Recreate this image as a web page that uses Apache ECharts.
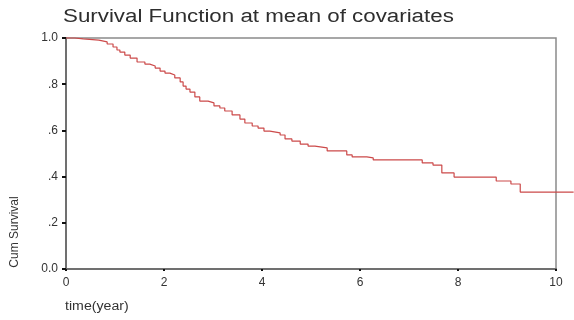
<!DOCTYPE html>
<html>
<head>
<meta charset="utf-8">
<script src="https://cdn.jsdelivr.net/npm/echarts@6/dist/echarts.min.js"></script>
<style>
	html, body { margin: 0; padding: 0; background: #fff; }
	#chart { width: 574px; height: 320px; }
</style>
</head>
<body>
<div id="chart"></div>
<script>
	// step times (year) and cumulative survival
	var times = [0, 0.18, 0.35, 0.67, 0.84, 0.96, 1.04, 1.10, 1.20, 1.31, 1.45, 1.61, 1.71, 1.82, 1.92,
		2.02, 2.12, 2.22, 2.33, 2.39, 2.45, 2.53, 2.63, 2.73, 2.90, 3.02, 3.14, 3.24, 3.39, 3.55,
		3.65, 3.80, 3.92, 4.04, 4.16, 4.37, 4.47, 4.61, 4.78, 4.94, 5.08, 5.33, 5.73, 5.84, 6.14,
		6.27, 7.27, 7.49, 7.67, 7.92, 8.78, 9.08, 9.27, 10.36];
	var survival = [1.0, 0.996, 0.991, 0.983, 0.974, 0.961, 0.948, 0.939, 0.926, 0.913, 0.896, 0.887, 0.879, 0.870, 0.857,
		0.848, 0.840, 0.827, 0.810, 0.792, 0.779, 0.766, 0.745, 0.727, 0.719, 0.706, 0.697, 0.684, 0.667, 0.649,
		0.632, 0.619, 0.610, 0.597, 0.589, 0.580, 0.563, 0.554, 0.541, 0.532, 0.524, 0.511, 0.494, 0.485, 0.481,
		0.472, 0.459, 0.450, 0.416, 0.398, 0.381, 0.368, 0.333, 0.333];

	var yTickLabels = { 0: '0.0', 0.2: '.2', 0.4: '.4', 0.6: '.6', 0.8: '.8', 1: '1.0' };

	var data = [];
	for (var i = 0; i < times.length; i++) {
		data.push([times[i], survival[i]]);
	}

	// the curve runs on past the frame to the picture edge, so it gets its own wider grid
	var plotLeft = 66, frameRight = 556, chartWidth = 574;
	var xMax = 10;
	var xMaxWide = xMax * (chartWidth - plotLeft) / (frameRight - plotLeft);

	var font = 'Liberation Sans, Arial, sans-serif';

	var myEchart = echarts.init(document.getElementById('chart'));

	var option = {
		animation: false,
		grid: [
			{
				left: plotLeft,
				right: chartWidth - frameRight,
				top: 38,
				bottom: 51,
				show: true,
				borderColor: '#8a8a8a',
				borderWidth: 1.5
			},
			{
				left: plotLeft,
				right: 0,
				top: 38,
				bottom: 51
			}
		],
		xAxis: [
			{
				type: 'value',
				gridIndex: 0,
				min: 0,
				max: xMax,
				interval: 2,
				splitLine: { show: false },
				axisLine: { show: true, onZero: false, lineStyle: { color: '#707070', width: 2 } },
				axisTick: { show: true, length: 2, lineStyle: { color: '#111', width: 2 } },
				axisLabel: { margin: 8, fontFamily: font, fontSize: 12, color: '#333' }
			},
			{
				type: 'value',
				gridIndex: 1,
				min: 0,
				max: xMaxWide,
				show: false
			}
		],
		yAxis: [
			{
				type: 'value',
				gridIndex: 0,
				min: 0,
				max: 1,
				interval: 0.2,
				splitLine: { show: false },
				axisLine: { show: true, onZero: false, lineStyle: { color: '#707070', width: 2 } },
				axisTick: { show: true, length: 4, lineStyle: { color: '#111', width: 2 } },
				axisLabel: {
					margin: 8,
					fontFamily: font,
					fontSize: 12,
					color: '#333',
					formatter: function (v) {
						var k = Math.round(v * 10) / 10;
						return yTickLabels[k] !== undefined ? yTickLabels[k] : '';
					}
				}
			},
			{
				type: 'value',
				gridIndex: 1,
				min: 0,
				max: 1,
				show: false
			}
		],
		graphic: [
			{
				type: 'text',
				x: 63,
				y: 8,
				scaleX: 1.24,
				style: {
					text: 'Survival Function at mean of covariates',
					font: '18px ' + font,
					fill: '#2e2e2e'
				}
			},
			{
				type: 'text',
				x: 65,
				y: 301,
				scaleX: 1.18,
				style: {
					text: 'time(year)',
					font: '12px ' + font,
					fill: '#333'
				}
			},
			{
				type: 'text',
				x: 15,
				y: 232,
				rotation: Math.PI / 2,
				style: {
					text: 'Cum Survival',
					font: '12px ' + font,
					fill: '#333',
					align: 'center',
					verticalAlign: 'middle'
				}
			}
		],
		series: [{
			type: 'line',
			xAxisIndex: 1,
			yAxisIndex: 1,
			step: 'end',
			showSymbol: false,
			clip: false,
			lineStyle: { color: '#cc4a4a', width: 1.2 },
			data: data
		}]
	};

	myEchart.setOption(option);
</script>
</body>
</html>
